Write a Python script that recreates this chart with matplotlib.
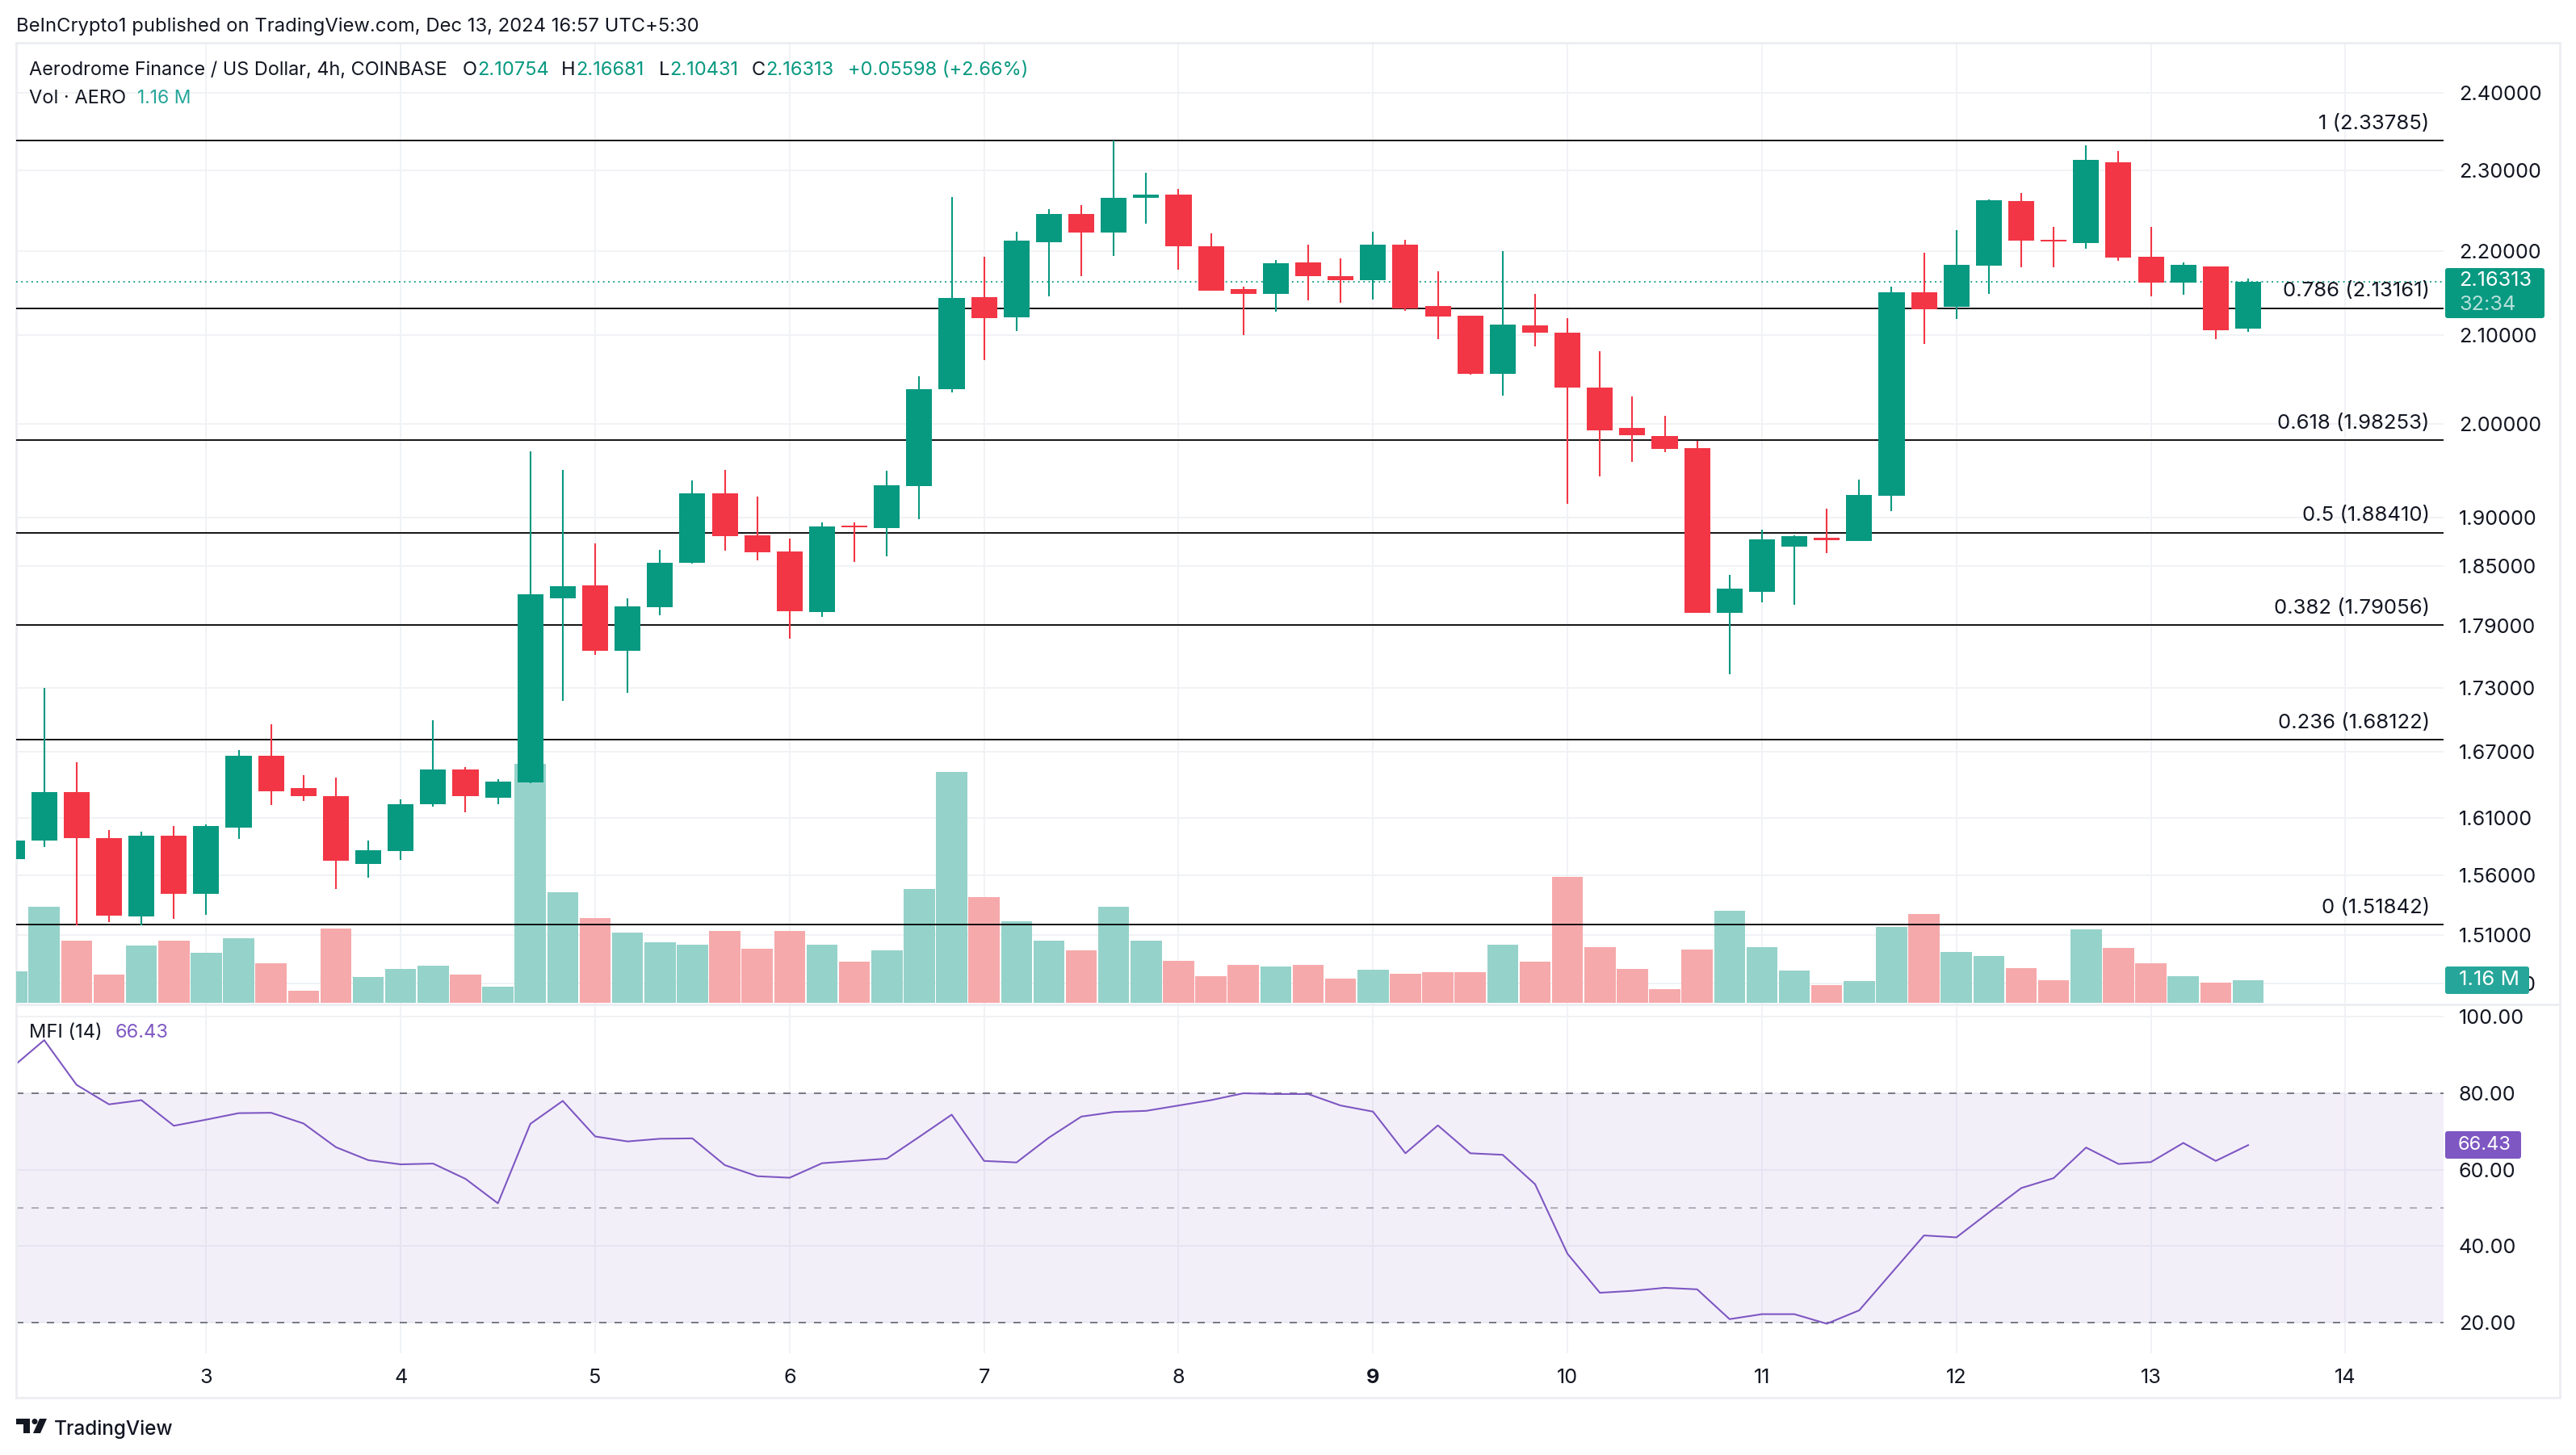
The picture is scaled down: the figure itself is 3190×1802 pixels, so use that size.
# -*- coding:utf-8 -*-

# AERO/USD 4h candles with volume, fib levels and MFI
import numpy as np
import matplotlib
matplotlib.use('Agg')
import matplotlib.pyplot as plt
from matplotlib.lines import Line2D
from matplotlib.patches import Circle, FancyBboxPatch, Polygon
from matplotlib.ticker import FixedLocator, FixedFormatter, NullLocator
from matplotlib.transforms import Affine2D

plt.rcParams['font.family'] = ['Inter', 'DejaVu Sans']

# 4h candles, values
opens = [1.5744, 1.5903, 1.6335, 1.5927, 1.5255, 1.5942, 1.5441, 1.6019, 1.6666, 1.6372,
         1.6298, 1.5702, 1.5811, 1.6224, 1.6534, 1.6283, 1.6423, 1.8175, 1.8304, 1.7654,
         1.8086, 1.8530, 1.9253, 1.8816, 1.8648, 1.8038, 1.8909, 1.8884, 1.9329, 2.0390,
         2.1451, 2.1212, 2.2105, 2.2447, 2.2226, 2.2648, 2.2688, 2.2057, 2.1547, 2.1490,
         2.1865, 2.1692, 2.1644, 2.2076, 2.1346, 2.1230, 2.0565, 2.1116, 2.1034, 2.0409,
         1.9953, 1.9865, 1.9733, 1.8030, 1.8239, 1.8698, 1.8791, 1.8757, 1.9228, 2.1500,
         2.1336, 2.1826, 2.2608, 2.2135, 2.2095, 2.3100, 2.1932, 2.1615, 2.1817, 2.10754]
highs = [1.5906, 1.7296, 1.6607, 1.5994, 1.5984, 1.6033, 1.6047, 1.6718, 1.6954, 1.6489,
         1.6467, 1.5906, 1.6269, 1.6993, 1.6559, 1.6452, 1.9698, 1.9500, 1.8732, 1.8175,
         1.8665, 1.9390, 1.9500, 1.9220, 1.8782, 1.8942, 1.8950, 1.9495, 2.0537, 2.2658,
         2.1932, 2.2236, 2.2507, 2.2557, 2.3380, 2.2969, 2.2768, 2.2216, 2.1567, 2.1894,
         2.2076, 2.1913, 2.2236, 2.2135, 2.1759, 2.1230, 2.1999, 2.1490, 2.1202, 2.0822,
         2.0308, 2.0093, 1.9812, 1.8408, 1.8867, 1.8816, 1.9094, 1.9399, 2.1576, 2.1980,
         2.2256, 2.2628, 2.2708, 2.2296, 2.3320, 2.3246, 2.2296, 2.1865, 2.1817, 2.16681]
lows = [1.5744, 1.5847, 1.5181, 1.5208, 1.5181, 1.5235, 1.5269, 1.5920, 1.6217, 1.6254,
        1.5484, 1.5582, 1.5737, 1.6202, 1.6153, 1.6224, 1.6416, 1.7173, 1.7615, 1.7254,
        1.8006, 1.8522, 1.8656, 1.8555, 1.7772, 1.7990, 1.8539, 1.8597, 1.8984, 2.0354,
        2.0721, 2.1052, 2.1461, 2.1692, 2.1942, 2.2336, 2.1769, 2.1528, 2.1006, 2.1279,
        2.1413, 2.1385, 2.1423, 2.1288, 2.0960, 2.0556, 2.0316, 2.0877, 1.9144, 1.9434,
        1.9592, 1.9689, 1.8030, 1.7431, 1.8127, 1.8103, 1.8631, 1.8757, 1.9068, 2.0905,
        2.1192, 2.1490, 2.1807, 2.1807, 2.2028, 2.1884, 2.1461, 2.1480, 2.0960, 2.10431]
closes = [1.5906, 1.6335, 1.5927, 1.5259, 1.5942, 1.5441, 1.6033, 1.6666, 1.6342, 1.6298,
          1.5730, 1.5815, 1.6224, 1.6534, 1.6298, 1.6430, 1.8215, 1.8296, 1.7654, 1.8094,
          1.8530, 1.9253, 1.8807, 1.8640, 1.8046, 1.8900, 1.8892, 1.9338, 2.0390, 2.1442,
          2.1202, 2.2125, 2.2447, 2.2226, 2.2648, 2.2688, 2.2057, 2.1528, 2.1490, 2.1855,
          2.1692, 2.1644, 2.2076, 2.1317, 2.1221, 2.0565, 2.1126, 2.1034, 2.0409, 1.9935,
          1.9882, 1.9724, 1.8030, 1.8272, 1.8774, 1.8807, 1.8766, 1.9237, 2.1509, 2.1303,
          2.1836, 2.2618, 2.2125, 2.2115, 2.3131, 2.1922, 2.1615, 2.1836, 2.1061, 2.16313]

# volume in millions
volumes = [1.60, 4.91, 3.19, 1.45, 2.93, 3.19, 2.56, 3.31, 2.03, 0.61,
           3.80, 1.32, 1.74, 1.90, 1.43, 0.82, 12.25, 5.66, 4.35, 3.59,
           3.10, 2.98, 3.68, 2.77, 3.68, 2.98, 2.09, 2.68, 5.84, 11.84,
           5.40, 4.18, 3.19, 2.69, 4.93, 3.19, 2.15, 1.37, 1.94, 1.85,
           1.94, 1.24, 1.70, 1.49, 1.57, 1.57, 2.98, 2.11, 6.45, 2.86,
           1.73, 0.72, 2.73, 4.72, 2.86, 1.64, 0.91, 1.11, 3.88, 4.55,
           2.60, 2.40, 1.78, 1.16, 3.76, 2.80, 2.03, 1.37, 1.04, 1.16]

mfi = [86.7, 93.9, 82.2, 77.1, 78.2, 71.5, 73.1, 74.8, 74.9, 72.1,
       65.9, 62.5, 61.4, 61.6, 57.6, 51.2, 72.0, 78.0, 68.7, 67.4,
       68.1, 68.2, 61.2, 58.3, 57.9, 61.7, 62.3, 62.9, 68.6, 74.4,
       62.3, 61.9, 68.4, 73.9, 75.1, 75.4, 76.8, 78.2, 80.0, 79.8,
       79.8, 76.8, 75.2, 64.3, 71.6, 64.3, 63.9, 56.2, 38.0, 27.8,
       28.3, 29.1, 28.7, 20.9, 22.2, 22.2, 19.7, 23.2, 33.0, 42.8,
       42.3, 48.8, 55.2, 57.8, 65.8, 61.5, 62.0, 67.0, 62.3, 66.43]

fib_levels = [2.33785, 2.13161, 1.98253, 1.88410, 1.79056, 1.68122, 1.51842]
fib_labels = ['1 (2.33785)', '0.786 (2.13161)', '0.618 (1.98253)', '0.5 (1.88410)',
              '0.382 (1.79056)', '0.236 (1.68122)', '0 (1.51842)']
price_ticks = [2.40, 2.30, 2.20, 2.10, 2.00, 1.90, 1.85, 1.79, 1.73, 1.67, 1.61, 1.56, 1.51, 1.47]
mfi_ticks = [100, 80, 60, 40, 20]
day_labels = ['3', '4', '5', '6', '7', '8', '9', '10', '11', '12', '13', '14']
day_ticks = np.arange(5, 72, 6)
x = np.arange(-1, 69)

W, H = 3190, 1802
GREEN = '#089981'
RED = '#f23645'
VOL_GREEN = '#95d2ca'
VOL_RED = '#f6a9ab'
TEAL = '#26a69a'
PURPLE = '#7e57c2'
TEXT = '#131722'
GRID = '#f0f2f5'
FS = 17
FS_NUM = 18.2
XMIN, XMAX = -0.865, 74.03


# axes rectangle from pixel box, y counted from the top
def box(x0, y0, x1, y1):
    return [x0/W, 1-y1/H, (x1-x0)/W, (y1-y0)/H]


fig = plt.figure(figsize=(W/100, H/100), dpi=100, facecolor='white')
px = Affine2D().scale(1, -1).translate(0, H)


def label(xp, yp, s, color=TEXT, size=FS, **kw):
    fig.text(xp, yp, s, transform=px, color=color, fontsize=size, va='center', zorder=8, **kw)


# volume pane sits behind the candles
ax_vol = fig.add_axes(box(20, 53, 3026, 1244))
ax_vol.set_xlim(XMIN, XMAX)
ax_vol.set_ylim(-0.083, 49.2)
ax_vol.axis('off')
vol_colors = [VOL_GREEN if c >= o else VOL_RED for o, c in zip(opens, closes)]
ax_vol.bar(x, volumes, width=0.96, color=vol_colors, zorder=3)

# price pane
ax = fig.add_axes(box(20, 53, 3026, 1244))
ax.patch.set_alpha(0)
ax.set_yscale('log')
ax.set_xlim(XMIN, XMAX)
ax.set_ylim(1.4531, 2.4670)
for s in ax.spines.values():
    s.set_visible(False)
ax.yaxis.tick_right()
ax.yaxis.set_major_locator(FixedLocator(price_ticks))
ax.yaxis.set_major_formatter(FixedFormatter(['%.5f' % p for p in price_ticks]))
ax.yaxis.set_minor_locator(NullLocator())
ax.set_xticks(day_ticks)
ax.tick_params(axis='x', length=0, labelbottom=False)
ax.tick_params(axis='y', length=0, pad=13.5, labelsize=FS_NUM, labelcolor=TEXT)

ax_vol.set_zorder(1)
ax.set_zorder(2)

# grid has to go below the volume bars, so it is drawn on a third axes
ax_grid = fig.add_axes(box(20, 53, 3026, 1244))
ax_grid.set_zorder(0)
ax_grid.set_yscale('log')
ax_grid.set_xlim(XMIN, XMAX)
ax_grid.set_ylim(1.4531, 2.4670)
ax_grid.axis('off')
ax_grid.hlines(price_ticks, XMIN, XMAX, color=GRID, lw=1.44)
ax_grid.vlines(day_ticks, 1.4531, 2.4670, color=GRID, lw=1.44)

for lv, lb in zip(fib_levels, fib_labels):
    ax.axhline(lv, color='black', lw=1.3, zorder=2)
    ax.annotate(lb, (73.6, lv), xytext=(0, 15), textcoords='offset points', ha='right', va='center',
                fontsize=18.5, color=TEXT, zorder=6)

ax.axhline(closes[-1], color=GREEN, lw=1.3, ls=(0, (1, 2.5)), zorder=2)

for xi, o, h, l, c in zip(x, opens, highs, lows, closes):
    col = GREEN if c >= o else RED
    ax.vlines(xi, l, h, color=col, lw=1.5, zorder=4)
    ax.bar(xi, abs(c-o), bottom=min(o, c), width=0.8, color=col, zorder=5)

# MFI pane
ax_mfi = fig.add_axes(box(20, 1245, 3026, 1676))
ax_mfi.set_xlim(XMIN, XMAX)
ax_mfi.set_ylim(11.97, 103.03)
for s in ax_mfi.spines.values():
    s.set_visible(False)
ax_mfi.yaxis.tick_right()
ax_mfi.set_yticks(mfi_ticks)
ax_mfi.set_yticklabels(['%.2f' % v for v in mfi_ticks])
ax_mfi.set_xticks(day_ticks)
ax_mfi.set_xticklabels(day_labels)
ax_mfi.get_xticklabels()[6].set_fontweight('bold')
ax_mfi.tick_params(axis='both', length=0, labelsize=FS_NUM, labelcolor=TEXT)
ax_mfi.tick_params(axis='y', pad=13.5)
ax_mfi.tick_params(axis='x', pad=14)
ax_mfi.grid(color=GRID, lw=1.44, zorder=0)
ax_mfi.set_axisbelow(True)
ax_mfi.axhspan(20, 80, color=PURPLE, alpha=0.09, lw=0, zorder=1)
ax_mfi.axhline(80, color='#787b86', lw=1.44, ls=(0, (4.5, 5)), zorder=2)
ax_mfi.axhline(50, color='#787b86', lw=1.44, ls=(0, (4.5, 5)), alpha=0.55, zorder=2)
ax_mfi.axhline(20, color='#787b86', lw=1.44, ls=(0, (4.5, 5)), zorder=2)
ax_mfi.plot(x, mfi, color=PURPLE, lw=1.5, zorder=3)

# outer frame and pane separator
for x0, y0, x1, y1 in [(20, 53, 3170, 53), (20, 1244, 3170, 1244), (20, 1731, 3170, 1731),
                       (20, 53, 20, 1731), (3170, 53, 3170, 1731)]:
    fig.add_artist(Line2D([x0, x1], [y0, y1], transform=px, color='#eceef2', lw=2, zorder=1))

# header and legend texts
label(20, 33, 'BeInCrypto1 published on TradingView.com, Dec 13, 2024 16:57 UTC+5:30', size=17.15)
label(36, 87, 'Aerodrome Finance / US Dollar, 4h, COINBASE', size=16.9)
for xp, s, col in [(573, 'O', TEXT), (591, '2.10754', GREEN), (695, 'H', TEXT), (713, '2.16681', GREEN),
                   (816, 'L', TEXT), (829, '2.10431', GREEN), (931, 'C', TEXT), (948, '2.16313', GREEN),
                   (1050, '+0.05598 (+2.66%)', GREEN)]:
    label(xp, 87, s, color=col)
label(36, 122, 'Vol · AERO')
label(170, 122, '1.16 M', color=TEAL, size=16.5)
label(36, 1279, 'MFI (14)')
label(143, 1279, '66.43', color=PURPLE)

# axis tags
for x0, y0, x1, y1, col in [(3028, 332, 3151, 394, GREEN), (3028, 1197, 3132, 1231, TEAL),
                            (3028, 1401, 3122, 1435, PURPLE)]:
    fig.add_artist(FancyBboxPatch((x0+3, y0+3), x1-x0-6, y1-y0-6, boxstyle='round,pad=3,rounding_size=3',
                                  transform=px, fc=col, ec='none', zorder=7))
label(3045, 348, '2.16313', color='white', size=FS_NUM)
label(3045, 377, '32:34', color='#b5e0d9', size=FS_NUM)
label(3045, 1214, '1.16 M', color='white', size=18.6)
label(3044, 1418, '66.43', color='white')

# TradingView logo
for art in [Polygon([(20, 1757), (37, 1757), (37, 1775), (29, 1775), (29, 1764), (20, 1764)], transform=px),
            Circle((43, 1760.5), 3.5, transform=px),
            Polygon([(49, 1757), (58, 1757), (50, 1775), (41, 1775)], transform=px)]:
    art.set_facecolor(TEXT)
    art.set_edgecolor('none')
    fig.add_artist(art)
label(67, 1770, 'TradingView', size=17.5, fontweight='medium')

fig.savefig('out.png', dpi=100)
